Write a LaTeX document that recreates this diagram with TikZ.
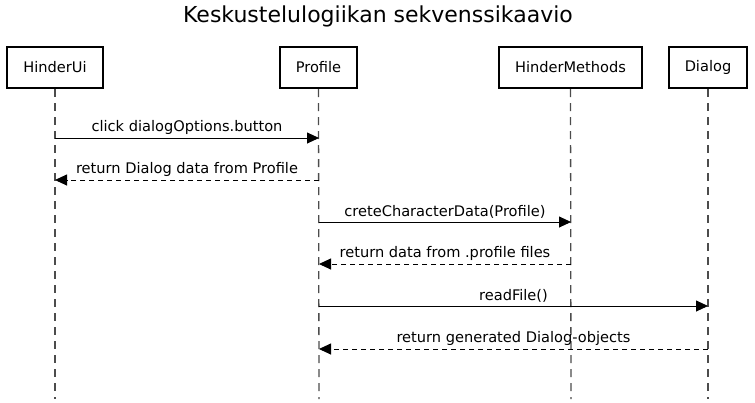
\documentclass[tikz,border=0pt]{standalone}
\usepackage{fontspec}
\setmainfont{DejaVu Sans}
\usetikzlibrary{arrows.meta}
\begin{document}
\begin{tikzpicture}[x=1pt,y=-1pt,
  actor/.style={draw,line width=2pt,minimum height=41pt,inner sep=0pt,font=\fontsize{14.6}{17}\selectfont},
  life/.style={draw=black!70,line width=1.3pt,dash pattern=on 8pt off 6pt},
  msg/.style={line width=0.9pt,-{Triangle[length=12pt,width=11pt]}},
  ret/.style={msg,dash pattern=on 5pt off 4pt},
  lbl/.style={font=\fontsize{14.6}{17}\selectfont,above=2.5pt,midway,inner sep=1pt}]
\useasboundingbox (0,0) rectangle (755,402);
\node[font=\fontsize{22}{26}\selectfont] (title) at (378,16) {Keskustelulogiikan sekvenssikaavio};
\node[actor,minimum width=96pt] (hu) at (55,67.5) {HinderUi};
\node[actor,minimum width=77pt] (pr) at (318.5,67.5) {Profile};
\node[actor,minimum width=143pt] (hm) at (570.5,67.5) {HinderMethods};
\node[actor,minimum width=78pt] (dl) at (708,67.5) {Dialog};
\foreach \n/\x in {hu/55,pr/319,hm/571,dl/708}{
  \coordinate (\n e) at (\x,399);
  \draw[life] (\n.south) -- (\n e);
}
\coordinate (hu1) at (55,138); \coordinate (pr1) at (319,138);
\coordinate (hu2) at (55,180); \coordinate (pr2) at (319,180);
\coordinate (pr3) at (319,222); \coordinate (hm3) at (571,222);
\coordinate (pr4) at (319,264); \coordinate (hm4) at (571,264);
\coordinate (pr5) at (319,306); \coordinate (dl5) at (708,306);
\coordinate (pr6) at (319,349); \coordinate (dl6) at (708,349);
\draw[msg] (hu1) -- node[lbl] (l1) {click dialogOptions.button} (pr1);
\draw[ret] (pr2) -- node[lbl] (l2) {return Dialog data from Profile} (hu2);
\draw[msg] (pr3) -- node[lbl] (l3) {creteCharacterData(Profile)} (hm3);
\draw[ret] (hm4) -- node[lbl] (l4) {return data from .profile files} (pr4);
\draw[msg] (pr5) -- node[lbl] (l5) {readFile()} (dl5);
\draw[ret] (dl6) -- node[lbl] (l6) {return generated Dialog-objects} (pr6);
\end{tikzpicture}
\end{document}
